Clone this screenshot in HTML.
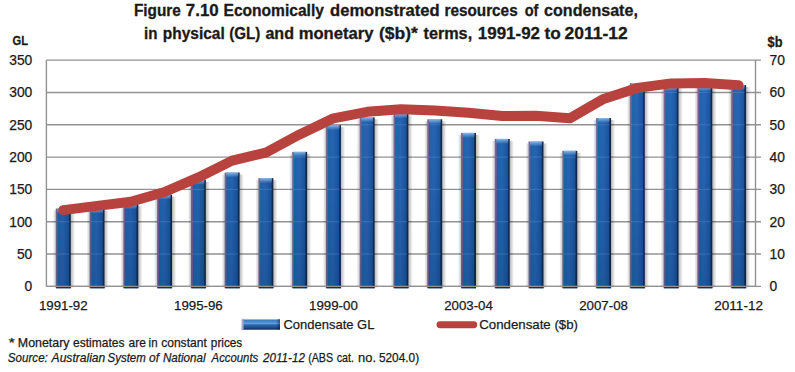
<!DOCTYPE html>
<html><head><meta charset="utf-8"><style>
html,body{margin:0;padding:0;background:#fff;}
body{width:795px;height:372px;overflow:hidden;position:relative;}
svg{position:absolute;left:0;top:0;}
text{font-family:"Liberation Sans",sans-serif;fill:#1a1a1a;stroke:#1a1a1a;stroke-width:0.25px;}
text[font-weight=bold]{stroke-width:0.3px;}
</style></head><body>
<svg width="795" height="372" viewBox="0 0 795 372">
<defs>
<linearGradient id="bar" x1="0" y1="0" x2="1" y2="0">
<stop offset="0" stop-color="#7f7099"/>
<stop offset="0.11" stop-color="#735f95"/>
<stop offset="0.15" stop-color="#1d68a6"/>
<stop offset="0.27" stop-color="#1f68b2"/>
<stop offset="0.47" stop-color="#2a66b6"/>
<stop offset="0.72" stop-color="#1f5ca8"/>
<stop offset="0.85" stop-color="#1a56a0"/>
<stop offset="0.9" stop-color="#14305a"/>
<stop offset="1" stop-color="#0e2240"/>
</linearGradient>
<linearGradient id="vdark" gradientUnits="userSpaceOnUse" x1="0" y1="60" x2="0" y2="287">
<stop offset="0" stop-color="#001a40" stop-opacity="0"/>
<stop offset="0.5" stop-color="#001a40" stop-opacity="0.06"/>
<stop offset="1" stop-color="#001a40" stop-opacity="0.2"/>
</linearGradient>
<linearGradient id="cap" x1="0" y1="0" x2="0" y2="1">
<stop offset="0" stop-color="#a8d0f4" stop-opacity="0.8"/>
<stop offset="0.5" stop-color="#8cbcec" stop-opacity="0.45"/>
<stop offset="1" stop-color="#8cbcec" stop-opacity="0"/>
</linearGradient>
<linearGradient id="shR" x1="0" y1="0" x2="1" y2="0">
<stop offset="0" stop-color="#000" stop-opacity="0.28"/>
<stop offset="1" stop-color="#000" stop-opacity="0"/>
</linearGradient>
<linearGradient id="shL" x1="0" y1="0" x2="1" y2="0">
<stop offset="0" stop-color="#000" stop-opacity="0"/>
<stop offset="1" stop-color="#000" stop-opacity="0.22"/>
</linearGradient>
<linearGradient id="leg" x1="0" y1="0" x2="0" y2="1">
<stop offset="0" stop-color="#a3bde4"/>
<stop offset="0.09" stop-color="#8fb0df"/>
<stop offset="0.14" stop-color="#3f7cc4"/>
<stop offset="0.3" stop-color="#4a8cd4"/>
<stop offset="0.42" stop-color="#5ea0e0"/>
<stop offset="0.52" stop-color="#3a74bc"/>
<stop offset="0.62" stop-color="#2b60a4"/>
<stop offset="0.8" stop-color="#1f4c88"/>
<stop offset="1" stop-color="#0c2a58"/>
</linearGradient>
<linearGradient id="legx" x1="0" y1="0" x2="1" y2="0">
<stop offset="0" stop-color="#000" stop-opacity="0"/>
<stop offset="0.9" stop-color="#000" stop-opacity="0"/>
<stop offset="1" stop-color="#001030" stop-opacity="0.45"/>
</linearGradient>
</defs>
<rect width="795" height="372" fill="#fff"/>

<line x1="46.4" y1="60.10" x2="761.0" y2="60.10" stroke="#929292" stroke-width="1.4"/>
<line x1="46.4" y1="92.43" x2="761.0" y2="92.43" stroke="#929292" stroke-width="1.4"/>
<line x1="46.4" y1="124.76" x2="761.0" y2="124.76" stroke="#929292" stroke-width="1.4"/>
<line x1="46.4" y1="157.09" x2="761.0" y2="157.09" stroke="#929292" stroke-width="1.4"/>
<line x1="46.4" y1="189.41" x2="761.0" y2="189.41" stroke="#929292" stroke-width="1.4"/>
<line x1="46.4" y1="221.74" x2="761.0" y2="221.74" stroke="#929292" stroke-width="1.4"/>
<line x1="46.4" y1="254.07" x2="761.0" y2="254.07" stroke="#929292" stroke-width="1.4"/>
<line x1="46.4" y1="286.40" x2="761.0" y2="286.40" stroke="#929292" stroke-width="1.4"/>
<line x1="46.40" y1="60.1" x2="46.40" y2="286.4" stroke="#929292" stroke-width="1.4"/>
<line x1="755.50" y1="60.1" x2="755.50" y2="286.4" stroke="#929292" stroke-width="1.4"/>
<g>
<rect x="70.78" y="210.55" width="4.2" height="76.85" fill="url(#shR)"/>
<rect x="52.78" y="210.55" width="3" height="76.85" fill="url(#shL)"/>
<rect x="55.78" y="208.55" width="15.00" height="79.65" fill="url(#bar)"/>
<rect x="55.78" y="208.55" width="15.00" height="79.65" fill="url(#vdark)"/>
<rect x="57.28" y="208.55" width="12.00" height="5" fill="url(#cap)"/>
<rect x="104.55" y="210.55" width="4.2" height="76.85" fill="url(#shR)"/>
<rect x="86.55" y="210.55" width="3" height="76.85" fill="url(#shL)"/>
<rect x="89.55" y="208.55" width="15.00" height="79.65" fill="url(#bar)"/>
<rect x="89.55" y="208.55" width="15.00" height="79.65" fill="url(#vdark)"/>
<rect x="91.05" y="208.55" width="12.00" height="5" fill="url(#cap)"/>
<rect x="138.32" y="206.03" width="4.2" height="81.37" fill="url(#shR)"/>
<rect x="120.32" y="206.03" width="3" height="81.37" fill="url(#shL)"/>
<rect x="123.32" y="204.03" width="15.00" height="84.17" fill="url(#bar)"/>
<rect x="123.32" y="204.03" width="15.00" height="84.17" fill="url(#vdark)"/>
<rect x="124.82" y="204.03" width="12.00" height="5" fill="url(#cap)"/>
<rect x="172.08" y="196.65" width="4.2" height="90.75" fill="url(#shR)"/>
<rect x="154.08" y="196.65" width="3" height="90.75" fill="url(#shL)"/>
<rect x="157.08" y="194.65" width="15.00" height="93.55" fill="url(#bar)"/>
<rect x="157.08" y="194.65" width="15.00" height="93.55" fill="url(#vdark)"/>
<rect x="158.58" y="194.65" width="12.00" height="5" fill="url(#cap)"/>
<rect x="205.85" y="181.78" width="4.2" height="105.62" fill="url(#shR)"/>
<rect x="187.85" y="181.78" width="3" height="105.62" fill="url(#shL)"/>
<rect x="190.85" y="179.78" width="15.00" height="108.42" fill="url(#bar)"/>
<rect x="190.85" y="179.78" width="15.00" height="108.42" fill="url(#vdark)"/>
<rect x="192.35" y="179.78" width="12.00" height="5" fill="url(#cap)"/>
<rect x="239.62" y="174.54" width="4.2" height="112.86" fill="url(#shR)"/>
<rect x="221.62" y="174.54" width="3" height="112.86" fill="url(#shL)"/>
<rect x="224.62" y="172.54" width="15.00" height="115.66" fill="url(#bar)"/>
<rect x="224.62" y="172.54" width="15.00" height="115.66" fill="url(#vdark)"/>
<rect x="226.12" y="172.54" width="12.00" height="5" fill="url(#cap)"/>
<rect x="273.38" y="180.16" width="4.2" height="107.24" fill="url(#shR)"/>
<rect x="255.38" y="180.16" width="3" height="107.24" fill="url(#shL)"/>
<rect x="258.38" y="178.16" width="15.00" height="110.04" fill="url(#bar)"/>
<rect x="258.38" y="178.16" width="15.00" height="110.04" fill="url(#vdark)"/>
<rect x="259.88" y="178.16" width="12.00" height="5" fill="url(#cap)"/>
<rect x="307.15" y="153.85" width="4.2" height="133.55" fill="url(#shR)"/>
<rect x="289.15" y="153.85" width="3" height="133.55" fill="url(#shL)"/>
<rect x="292.15" y="151.85" width="15.00" height="136.35" fill="url(#bar)"/>
<rect x="292.15" y="151.85" width="15.00" height="136.35" fill="url(#vdark)"/>
<rect x="293.65" y="151.85" width="12.00" height="5" fill="url(#cap)"/>
<rect x="340.92" y="127.15" width="4.2" height="160.25" fill="url(#shR)"/>
<rect x="322.92" y="127.15" width="3" height="160.25" fill="url(#shL)"/>
<rect x="325.92" y="125.15" width="15.00" height="163.05" fill="url(#bar)"/>
<rect x="325.92" y="125.15" width="15.00" height="163.05" fill="url(#vdark)"/>
<rect x="327.42" y="125.15" width="12.00" height="5" fill="url(#cap)"/>
<rect x="374.68" y="119.39" width="4.2" height="168.01" fill="url(#shR)"/>
<rect x="356.68" y="119.39" width="3" height="168.01" fill="url(#shL)"/>
<rect x="359.68" y="117.39" width="15.00" height="170.81" fill="url(#bar)"/>
<rect x="359.68" y="117.39" width="15.00" height="170.81" fill="url(#vdark)"/>
<rect x="361.18" y="117.39" width="12.00" height="5" fill="url(#cap)"/>
<rect x="408.45" y="115.51" width="4.2" height="171.89" fill="url(#shR)"/>
<rect x="390.45" y="115.51" width="3" height="171.89" fill="url(#shL)"/>
<rect x="393.45" y="113.51" width="15.00" height="174.69" fill="url(#bar)"/>
<rect x="393.45" y="113.51" width="15.00" height="174.69" fill="url(#vdark)"/>
<rect x="394.95" y="113.51" width="12.00" height="5" fill="url(#cap)"/>
<rect x="442.22" y="121.33" width="4.2" height="166.07" fill="url(#shR)"/>
<rect x="424.22" y="121.33" width="3" height="166.07" fill="url(#shL)"/>
<rect x="427.22" y="119.33" width="15.00" height="168.87" fill="url(#bar)"/>
<rect x="427.22" y="119.33" width="15.00" height="168.87" fill="url(#vdark)"/>
<rect x="428.72" y="119.33" width="12.00" height="5" fill="url(#cap)"/>
<rect x="475.98" y="134.90" width="4.2" height="152.50" fill="url(#shR)"/>
<rect x="457.98" y="134.90" width="3" height="152.50" fill="url(#shL)"/>
<rect x="460.98" y="132.90" width="15.00" height="155.30" fill="url(#bar)"/>
<rect x="460.98" y="132.90" width="15.00" height="155.30" fill="url(#vdark)"/>
<rect x="462.48" y="132.90" width="12.00" height="5" fill="url(#cap)"/>
<rect x="509.75" y="140.92" width="4.2" height="146.48" fill="url(#shR)"/>
<rect x="491.75" y="140.92" width="3" height="146.48" fill="url(#shL)"/>
<rect x="494.75" y="138.92" width="15.00" height="149.28" fill="url(#bar)"/>
<rect x="494.75" y="138.92" width="15.00" height="149.28" fill="url(#vdark)"/>
<rect x="496.25" y="138.92" width="12.00" height="5" fill="url(#cap)"/>
<rect x="543.52" y="143.50" width="4.2" height="143.90" fill="url(#shR)"/>
<rect x="525.52" y="143.50" width="3" height="143.90" fill="url(#shL)"/>
<rect x="528.52" y="141.50" width="15.00" height="146.70" fill="url(#bar)"/>
<rect x="528.52" y="141.50" width="15.00" height="146.70" fill="url(#vdark)"/>
<rect x="530.02" y="141.50" width="12.00" height="5" fill="url(#cap)"/>
<rect x="577.28" y="152.81" width="4.2" height="134.59" fill="url(#shR)"/>
<rect x="559.28" y="152.81" width="3" height="134.59" fill="url(#shL)"/>
<rect x="562.28" y="150.81" width="15.00" height="137.39" fill="url(#bar)"/>
<rect x="562.28" y="150.81" width="15.00" height="137.39" fill="url(#vdark)"/>
<rect x="563.78" y="150.81" width="12.00" height="5" fill="url(#cap)"/>
<rect x="611.05" y="120.03" width="4.2" height="167.37" fill="url(#shR)"/>
<rect x="593.05" y="120.03" width="3" height="167.37" fill="url(#shL)"/>
<rect x="596.05" y="118.03" width="15.00" height="170.17" fill="url(#bar)"/>
<rect x="596.05" y="118.03" width="15.00" height="170.17" fill="url(#vdark)"/>
<rect x="597.55" y="118.03" width="12.00" height="5" fill="url(#cap)"/>
<rect x="644.82" y="85.12" width="4.2" height="202.28" fill="url(#shR)"/>
<rect x="626.82" y="85.12" width="3" height="202.28" fill="url(#shL)"/>
<rect x="629.82" y="83.12" width="15.00" height="205.08" fill="url(#bar)"/>
<rect x="629.82" y="83.12" width="15.00" height="205.08" fill="url(#vdark)"/>
<rect x="631.32" y="83.12" width="12.00" height="5" fill="url(#cap)"/>
<rect x="678.58" y="88.35" width="4.2" height="199.05" fill="url(#shR)"/>
<rect x="660.58" y="88.35" width="3" height="199.05" fill="url(#shL)"/>
<rect x="663.58" y="86.35" width="15.00" height="201.85" fill="url(#bar)"/>
<rect x="663.58" y="86.35" width="15.00" height="201.85" fill="url(#vdark)"/>
<rect x="665.08" y="86.35" width="12.00" height="5" fill="url(#cap)"/>
<rect x="712.35" y="88.35" width="4.2" height="199.05" fill="url(#shR)"/>
<rect x="694.35" y="88.35" width="3" height="199.05" fill="url(#shL)"/>
<rect x="697.35" y="86.35" width="15.00" height="201.85" fill="url(#bar)"/>
<rect x="697.35" y="86.35" width="15.00" height="201.85" fill="url(#vdark)"/>
<rect x="698.85" y="86.35" width="12.00" height="5" fill="url(#cap)"/>
<rect x="746.12" y="87.06" width="4.2" height="200.34" fill="url(#shR)"/>
<rect x="728.12" y="87.06" width="3" height="200.34" fill="url(#shL)"/>
<rect x="731.12" y="85.06" width="15.00" height="203.14" fill="url(#bar)"/>
<rect x="731.12" y="85.06" width="15.00" height="203.14" fill="url(#vdark)"/>
<rect x="732.62" y="85.06" width="12.00" height="5" fill="url(#cap)"/>
</g>
<line x1="631.32" y1="92.43" x2="643.32" y2="92.43" stroke="#6f9ad0" stroke-opacity="0.3" stroke-width="1.2"/>
<line x1="665.08" y1="92.43" x2="677.08" y2="92.43" stroke="#6f9ad0" stroke-opacity="0.3" stroke-width="1.2"/>
<line x1="698.85" y1="92.43" x2="710.85" y2="92.43" stroke="#6f9ad0" stroke-opacity="0.3" stroke-width="1.2"/>
<line x1="732.62" y1="92.43" x2="744.62" y2="92.43" stroke="#6f9ad0" stroke-opacity="0.3" stroke-width="1.2"/>
<line x1="361.18" y1="124.76" x2="373.18" y2="124.76" stroke="#6f9ad0" stroke-opacity="0.3" stroke-width="1.2"/>
<line x1="394.95" y1="124.76" x2="406.95" y2="124.76" stroke="#6f9ad0" stroke-opacity="0.3" stroke-width="1.2"/>
<line x1="428.72" y1="124.76" x2="440.72" y2="124.76" stroke="#6f9ad0" stroke-opacity="0.3" stroke-width="1.2"/>
<line x1="597.55" y1="124.76" x2="609.55" y2="124.76" stroke="#6f9ad0" stroke-opacity="0.3" stroke-width="1.2"/>
<line x1="631.32" y1="124.76" x2="643.32" y2="124.76" stroke="#6f9ad0" stroke-opacity="0.3" stroke-width="1.2"/>
<line x1="665.08" y1="124.76" x2="677.08" y2="124.76" stroke="#6f9ad0" stroke-opacity="0.3" stroke-width="1.2"/>
<line x1="698.85" y1="124.76" x2="710.85" y2="124.76" stroke="#6f9ad0" stroke-opacity="0.3" stroke-width="1.2"/>
<line x1="732.62" y1="124.76" x2="744.62" y2="124.76" stroke="#6f9ad0" stroke-opacity="0.3" stroke-width="1.2"/>
<line x1="293.65" y1="157.09" x2="305.65" y2="157.09" stroke="#6f9ad0" stroke-opacity="0.3" stroke-width="1.2"/>
<line x1="327.42" y1="157.09" x2="339.42" y2="157.09" stroke="#6f9ad0" stroke-opacity="0.3" stroke-width="1.2"/>
<line x1="361.18" y1="157.09" x2="373.18" y2="157.09" stroke="#6f9ad0" stroke-opacity="0.3" stroke-width="1.2"/>
<line x1="394.95" y1="157.09" x2="406.95" y2="157.09" stroke="#6f9ad0" stroke-opacity="0.3" stroke-width="1.2"/>
<line x1="428.72" y1="157.09" x2="440.72" y2="157.09" stroke="#6f9ad0" stroke-opacity="0.3" stroke-width="1.2"/>
<line x1="462.48" y1="157.09" x2="474.48" y2="157.09" stroke="#6f9ad0" stroke-opacity="0.3" stroke-width="1.2"/>
<line x1="496.25" y1="157.09" x2="508.25" y2="157.09" stroke="#6f9ad0" stroke-opacity="0.3" stroke-width="1.2"/>
<line x1="530.02" y1="157.09" x2="542.02" y2="157.09" stroke="#6f9ad0" stroke-opacity="0.3" stroke-width="1.2"/>
<line x1="563.78" y1="157.09" x2="575.78" y2="157.09" stroke="#6f9ad0" stroke-opacity="0.3" stroke-width="1.2"/>
<line x1="597.55" y1="157.09" x2="609.55" y2="157.09" stroke="#6f9ad0" stroke-opacity="0.3" stroke-width="1.2"/>
<line x1="631.32" y1="157.09" x2="643.32" y2="157.09" stroke="#6f9ad0" stroke-opacity="0.3" stroke-width="1.2"/>
<line x1="665.08" y1="157.09" x2="677.08" y2="157.09" stroke="#6f9ad0" stroke-opacity="0.3" stroke-width="1.2"/>
<line x1="698.85" y1="157.09" x2="710.85" y2="157.09" stroke="#6f9ad0" stroke-opacity="0.3" stroke-width="1.2"/>
<line x1="732.62" y1="157.09" x2="744.62" y2="157.09" stroke="#6f9ad0" stroke-opacity="0.3" stroke-width="1.2"/>
<line x1="192.35" y1="189.41" x2="204.35" y2="189.41" stroke="#6f9ad0" stroke-opacity="0.3" stroke-width="1.2"/>
<line x1="226.12" y1="189.41" x2="238.12" y2="189.41" stroke="#6f9ad0" stroke-opacity="0.3" stroke-width="1.2"/>
<line x1="259.88" y1="189.41" x2="271.88" y2="189.41" stroke="#6f9ad0" stroke-opacity="0.3" stroke-width="1.2"/>
<line x1="293.65" y1="189.41" x2="305.65" y2="189.41" stroke="#6f9ad0" stroke-opacity="0.3" stroke-width="1.2"/>
<line x1="327.42" y1="189.41" x2="339.42" y2="189.41" stroke="#6f9ad0" stroke-opacity="0.3" stroke-width="1.2"/>
<line x1="361.18" y1="189.41" x2="373.18" y2="189.41" stroke="#6f9ad0" stroke-opacity="0.3" stroke-width="1.2"/>
<line x1="394.95" y1="189.41" x2="406.95" y2="189.41" stroke="#6f9ad0" stroke-opacity="0.3" stroke-width="1.2"/>
<line x1="428.72" y1="189.41" x2="440.72" y2="189.41" stroke="#6f9ad0" stroke-opacity="0.3" stroke-width="1.2"/>
<line x1="462.48" y1="189.41" x2="474.48" y2="189.41" stroke="#6f9ad0" stroke-opacity="0.3" stroke-width="1.2"/>
<line x1="496.25" y1="189.41" x2="508.25" y2="189.41" stroke="#6f9ad0" stroke-opacity="0.3" stroke-width="1.2"/>
<line x1="530.02" y1="189.41" x2="542.02" y2="189.41" stroke="#6f9ad0" stroke-opacity="0.3" stroke-width="1.2"/>
<line x1="563.78" y1="189.41" x2="575.78" y2="189.41" stroke="#6f9ad0" stroke-opacity="0.3" stroke-width="1.2"/>
<line x1="597.55" y1="189.41" x2="609.55" y2="189.41" stroke="#6f9ad0" stroke-opacity="0.3" stroke-width="1.2"/>
<line x1="631.32" y1="189.41" x2="643.32" y2="189.41" stroke="#6f9ad0" stroke-opacity="0.3" stroke-width="1.2"/>
<line x1="665.08" y1="189.41" x2="677.08" y2="189.41" stroke="#6f9ad0" stroke-opacity="0.3" stroke-width="1.2"/>
<line x1="698.85" y1="189.41" x2="710.85" y2="189.41" stroke="#6f9ad0" stroke-opacity="0.3" stroke-width="1.2"/>
<line x1="732.62" y1="189.41" x2="744.62" y2="189.41" stroke="#6f9ad0" stroke-opacity="0.3" stroke-width="1.2"/>
<line x1="57.28" y1="221.74" x2="69.28" y2="221.74" stroke="#6f9ad0" stroke-opacity="0.3" stroke-width="1.2"/>
<line x1="91.05" y1="221.74" x2="103.05" y2="221.74" stroke="#6f9ad0" stroke-opacity="0.3" stroke-width="1.2"/>
<line x1="124.82" y1="221.74" x2="136.82" y2="221.74" stroke="#6f9ad0" stroke-opacity="0.3" stroke-width="1.2"/>
<line x1="158.58" y1="221.74" x2="170.58" y2="221.74" stroke="#6f9ad0" stroke-opacity="0.3" stroke-width="1.2"/>
<line x1="192.35" y1="221.74" x2="204.35" y2="221.74" stroke="#6f9ad0" stroke-opacity="0.3" stroke-width="1.2"/>
<line x1="226.12" y1="221.74" x2="238.12" y2="221.74" stroke="#6f9ad0" stroke-opacity="0.3" stroke-width="1.2"/>
<line x1="259.88" y1="221.74" x2="271.88" y2="221.74" stroke="#6f9ad0" stroke-opacity="0.3" stroke-width="1.2"/>
<line x1="293.65" y1="221.74" x2="305.65" y2="221.74" stroke="#6f9ad0" stroke-opacity="0.3" stroke-width="1.2"/>
<line x1="327.42" y1="221.74" x2="339.42" y2="221.74" stroke="#6f9ad0" stroke-opacity="0.3" stroke-width="1.2"/>
<line x1="361.18" y1="221.74" x2="373.18" y2="221.74" stroke="#6f9ad0" stroke-opacity="0.3" stroke-width="1.2"/>
<line x1="394.95" y1="221.74" x2="406.95" y2="221.74" stroke="#6f9ad0" stroke-opacity="0.3" stroke-width="1.2"/>
<line x1="428.72" y1="221.74" x2="440.72" y2="221.74" stroke="#6f9ad0" stroke-opacity="0.3" stroke-width="1.2"/>
<line x1="462.48" y1="221.74" x2="474.48" y2="221.74" stroke="#6f9ad0" stroke-opacity="0.3" stroke-width="1.2"/>
<line x1="496.25" y1="221.74" x2="508.25" y2="221.74" stroke="#6f9ad0" stroke-opacity="0.3" stroke-width="1.2"/>
<line x1="530.02" y1="221.74" x2="542.02" y2="221.74" stroke="#6f9ad0" stroke-opacity="0.3" stroke-width="1.2"/>
<line x1="563.78" y1="221.74" x2="575.78" y2="221.74" stroke="#6f9ad0" stroke-opacity="0.3" stroke-width="1.2"/>
<line x1="597.55" y1="221.74" x2="609.55" y2="221.74" stroke="#6f9ad0" stroke-opacity="0.3" stroke-width="1.2"/>
<line x1="631.32" y1="221.74" x2="643.32" y2="221.74" stroke="#6f9ad0" stroke-opacity="0.3" stroke-width="1.2"/>
<line x1="665.08" y1="221.74" x2="677.08" y2="221.74" stroke="#6f9ad0" stroke-opacity="0.3" stroke-width="1.2"/>
<line x1="698.85" y1="221.74" x2="710.85" y2="221.74" stroke="#6f9ad0" stroke-opacity="0.3" stroke-width="1.2"/>
<line x1="732.62" y1="221.74" x2="744.62" y2="221.74" stroke="#6f9ad0" stroke-opacity="0.3" stroke-width="1.2"/>
<line x1="57.28" y1="254.07" x2="69.28" y2="254.07" stroke="#6f9ad0" stroke-opacity="0.3" stroke-width="1.2"/>
<line x1="91.05" y1="254.07" x2="103.05" y2="254.07" stroke="#6f9ad0" stroke-opacity="0.3" stroke-width="1.2"/>
<line x1="124.82" y1="254.07" x2="136.82" y2="254.07" stroke="#6f9ad0" stroke-opacity="0.3" stroke-width="1.2"/>
<line x1="158.58" y1="254.07" x2="170.58" y2="254.07" stroke="#6f9ad0" stroke-opacity="0.3" stroke-width="1.2"/>
<line x1="192.35" y1="254.07" x2="204.35" y2="254.07" stroke="#6f9ad0" stroke-opacity="0.3" stroke-width="1.2"/>
<line x1="226.12" y1="254.07" x2="238.12" y2="254.07" stroke="#6f9ad0" stroke-opacity="0.3" stroke-width="1.2"/>
<line x1="259.88" y1="254.07" x2="271.88" y2="254.07" stroke="#6f9ad0" stroke-opacity="0.3" stroke-width="1.2"/>
<line x1="293.65" y1="254.07" x2="305.65" y2="254.07" stroke="#6f9ad0" stroke-opacity="0.3" stroke-width="1.2"/>
<line x1="327.42" y1="254.07" x2="339.42" y2="254.07" stroke="#6f9ad0" stroke-opacity="0.3" stroke-width="1.2"/>
<line x1="361.18" y1="254.07" x2="373.18" y2="254.07" stroke="#6f9ad0" stroke-opacity="0.3" stroke-width="1.2"/>
<line x1="394.95" y1="254.07" x2="406.95" y2="254.07" stroke="#6f9ad0" stroke-opacity="0.3" stroke-width="1.2"/>
<line x1="428.72" y1="254.07" x2="440.72" y2="254.07" stroke="#6f9ad0" stroke-opacity="0.3" stroke-width="1.2"/>
<line x1="462.48" y1="254.07" x2="474.48" y2="254.07" stroke="#6f9ad0" stroke-opacity="0.3" stroke-width="1.2"/>
<line x1="496.25" y1="254.07" x2="508.25" y2="254.07" stroke="#6f9ad0" stroke-opacity="0.3" stroke-width="1.2"/>
<line x1="530.02" y1="254.07" x2="542.02" y2="254.07" stroke="#6f9ad0" stroke-opacity="0.3" stroke-width="1.2"/>
<line x1="563.78" y1="254.07" x2="575.78" y2="254.07" stroke="#6f9ad0" stroke-opacity="0.3" stroke-width="1.2"/>
<line x1="597.55" y1="254.07" x2="609.55" y2="254.07" stroke="#6f9ad0" stroke-opacity="0.3" stroke-width="1.2"/>
<line x1="631.32" y1="254.07" x2="643.32" y2="254.07" stroke="#6f9ad0" stroke-opacity="0.3" stroke-width="1.2"/>
<line x1="665.08" y1="254.07" x2="677.08" y2="254.07" stroke="#6f9ad0" stroke-opacity="0.3" stroke-width="1.2"/>
<line x1="698.85" y1="254.07" x2="710.85" y2="254.07" stroke="#6f9ad0" stroke-opacity="0.3" stroke-width="1.2"/>
<line x1="732.62" y1="254.07" x2="744.62" y2="254.07" stroke="#6f9ad0" stroke-opacity="0.3" stroke-width="1.2"/>
<line x1="46.40" y1="286.40" x2="755.50" y2="286.40" stroke="#929292" stroke-width="1.4"/>
<rect x="56.28" y="287.10" width="14.50" height="1.2" fill="#0c2a58" fill-opacity="0.9"/>
<rect x="90.05" y="287.10" width="14.50" height="1.2" fill="#0c2a58" fill-opacity="0.9"/>
<rect x="123.82" y="287.10" width="14.50" height="1.2" fill="#0c2a58" fill-opacity="0.9"/>
<rect x="157.58" y="287.10" width="14.50" height="1.2" fill="#0c2a58" fill-opacity="0.9"/>
<rect x="191.35" y="287.10" width="14.50" height="1.2" fill="#0c2a58" fill-opacity="0.9"/>
<rect x="225.12" y="287.10" width="14.50" height="1.2" fill="#0c2a58" fill-opacity="0.9"/>
<rect x="258.88" y="287.10" width="14.50" height="1.2" fill="#0c2a58" fill-opacity="0.9"/>
<rect x="292.65" y="287.10" width="14.50" height="1.2" fill="#0c2a58" fill-opacity="0.9"/>
<rect x="326.42" y="287.10" width="14.50" height="1.2" fill="#0c2a58" fill-opacity="0.9"/>
<rect x="360.18" y="287.10" width="14.50" height="1.2" fill="#0c2a58" fill-opacity="0.9"/>
<rect x="393.95" y="287.10" width="14.50" height="1.2" fill="#0c2a58" fill-opacity="0.9"/>
<rect x="427.72" y="287.10" width="14.50" height="1.2" fill="#0c2a58" fill-opacity="0.9"/>
<rect x="461.48" y="287.10" width="14.50" height="1.2" fill="#0c2a58" fill-opacity="0.9"/>
<rect x="495.25" y="287.10" width="14.50" height="1.2" fill="#0c2a58" fill-opacity="0.9"/>
<rect x="529.02" y="287.10" width="14.50" height="1.2" fill="#0c2a58" fill-opacity="0.9"/>
<rect x="562.78" y="287.10" width="14.50" height="1.2" fill="#0c2a58" fill-opacity="0.9"/>
<rect x="596.55" y="287.10" width="14.50" height="1.2" fill="#0c2a58" fill-opacity="0.9"/>
<rect x="630.32" y="287.10" width="14.50" height="1.2" fill="#0c2a58" fill-opacity="0.9"/>
<rect x="664.08" y="287.10" width="14.50" height="1.2" fill="#0c2a58" fill-opacity="0.9"/>
<rect x="697.85" y="287.10" width="14.50" height="1.2" fill="#0c2a58" fill-opacity="0.9"/>
<rect x="731.62" y="287.10" width="14.50" height="1.2" fill="#0c2a58" fill-opacity="0.9"/>
<polyline points="63.28,210.10 97.05,205.90 130.82,201.70 164.58,192.00 198.35,177.45 232.12,160.64 265.88,152.56 299.65,134.46 333.42,118.29 367.18,111.83 400.95,109.24 434.72,110.53 468.48,112.80 502.25,116.03 536.02,115.71 569.78,118.29 603.55,98.89 637.32,87.90 671.08,83.38 704.85,83.05 738.62,85.32" fill="none" stroke="#b8433e" stroke-width="10" stroke-linejoin="round" stroke-linecap="round"/>
<text x="133.94" y="15.70" font-size="16.00" font-weight="bold" font-style="normal" textLength="46.92" lengthAdjust="spacingAndGlyphs">Figure</text>
<text x="185.86" y="15.70" font-size="16.00" font-weight="bold" font-style="normal" textLength="32.81" lengthAdjust="spacingAndGlyphs">7.10</text>
<text x="223.53" y="15.70" font-size="16.00" font-weight="bold" font-style="normal" textLength="100.42" lengthAdjust="spacingAndGlyphs">Economically</text>
<text x="330.08" y="15.70" font-size="16.00" font-weight="bold" font-style="normal" textLength="109.46" lengthAdjust="spacingAndGlyphs">demonstrated</text>
<text x="444.45" y="15.70" font-size="16.00" font-weight="bold" font-style="normal" textLength="73.22" lengthAdjust="spacingAndGlyphs">resources</text>
<text x="524.65" y="15.70" font-size="16.00" font-weight="bold" font-style="normal" textLength="13.75" lengthAdjust="spacingAndGlyphs">of</text>
<text x="544.10" y="15.70" font-size="16.00" font-weight="bold" font-style="normal" textLength="93.77" lengthAdjust="spacingAndGlyphs">condensate,</text>
<text x="143.96" y="38.50" font-size="16.00" font-weight="bold" font-style="normal" textLength="13.40" lengthAdjust="spacingAndGlyphs">in</text>
<text x="162.84" y="38.50" font-size="16.00" font-weight="bold" font-style="normal" textLength="61.86" lengthAdjust="spacingAndGlyphs">physical</text>
<text x="229.24" y="38.50" font-size="16.00" font-weight="bold" font-style="normal" textLength="31.09" lengthAdjust="spacingAndGlyphs">(GL)</text>
<text x="265.40" y="38.50" font-size="16.00" font-weight="bold" font-style="normal" textLength="28.55" lengthAdjust="spacingAndGlyphs">and</text>
<text x="298.66" y="38.50" font-size="16.00" font-weight="bold" font-style="normal" textLength="74.77" lengthAdjust="spacingAndGlyphs">monetary</text>
<text x="378.93" y="38.50" font-size="16.00" font-weight="bold" font-style="normal" textLength="38.83" lengthAdjust="spacingAndGlyphs">($b)*</text>
<text x="423.50" y="38.50" font-size="16.00" font-weight="bold" font-style="normal" textLength="48.64" lengthAdjust="spacingAndGlyphs">terms,</text>
<text x="477.84" y="38.50" font-size="16.00" font-weight="bold" font-style="normal" textLength="62.22" lengthAdjust="spacingAndGlyphs">1991-92</text>
<text x="544.58" y="38.50" font-size="16.00" font-weight="bold" font-style="normal" textLength="16.26" lengthAdjust="spacingAndGlyphs">to</text>
<text x="564.55" y="38.50" font-size="16.00" font-weight="bold" font-style="normal" textLength="63.05" lengthAdjust="spacingAndGlyphs">2011-12</text>
<text x="12.6" y="45.0" font-weight="bold" font-size="13.7" textLength="15.5" lengthAdjust="spacingAndGlyphs">GL</text>
<text x="767.6" y="46.8" font-weight="bold" font-size="15.3" textLength="14.9" lengthAdjust="spacingAndGlyphs">$b</text>
<text x="32.3" y="65.00" text-anchor="end" font-size="13.8">350</text>
<text x="769.6" y="65.00" font-size="13.8">70</text>
<text x="32.3" y="97.33" text-anchor="end" font-size="13.8">300</text>
<text x="769.6" y="97.33" font-size="13.8">60</text>
<text x="32.3" y="129.66" text-anchor="end" font-size="13.8">250</text>
<text x="769.6" y="129.66" font-size="13.8">50</text>
<text x="32.3" y="161.99" text-anchor="end" font-size="13.8">200</text>
<text x="769.6" y="161.99" font-size="13.8">40</text>
<text x="32.3" y="194.31" text-anchor="end" font-size="13.8">150</text>
<text x="769.6" y="194.31" font-size="13.8">30</text>
<text x="32.3" y="226.64" text-anchor="end" font-size="13.8">100</text>
<text x="769.6" y="226.64" font-size="13.8">20</text>
<text x="32.3" y="258.97" text-anchor="end" font-size="13.8">50</text>
<text x="769.6" y="258.97" font-size="13.8">10</text>
<text x="32.3" y="291.30" text-anchor="end" font-size="13.8">0</text>
<text x="769.6" y="291.30" font-size="13.8">0</text>
<text x="63.28" y="309.7" text-anchor="middle" font-size="13.6" textLength="48.7" lengthAdjust="spacingAndGlyphs">1991-92</text>
<text x="198.35" y="309.7" text-anchor="middle" font-size="13.6" textLength="48.7" lengthAdjust="spacingAndGlyphs">1995-96</text>
<text x="333.42" y="309.7" text-anchor="middle" font-size="13.6" textLength="48.7" lengthAdjust="spacingAndGlyphs">1999-00</text>
<text x="468.48" y="309.7" text-anchor="middle" font-size="13.6" textLength="48.7" lengthAdjust="spacingAndGlyphs">2003-04</text>
<text x="603.55" y="309.7" text-anchor="middle" font-size="13.6" textLength="48.7" lengthAdjust="spacingAndGlyphs">2007-08</text>
<text x="738.62" y="309.7" text-anchor="middle" font-size="13.6" textLength="48.7" lengthAdjust="spacingAndGlyphs">2011-12</text>
<rect x="241.8" y="318.9" width="38.2" height="10.8" fill="url(#leg)"/>
<rect x="241.8" y="318.9" width="38.2" height="10.8" fill="url(#legx)"/>
<rect x="241.8" y="318.9" width="1.8" height="10.8" fill="#a9a6c6"/>
<text x="283.5" y="329.0" font-size="13.4" textLength="90.9" lengthAdjust="spacingAndGlyphs">Condensate GL</text>
<line x1="440" y1="324.7" x2="473.8" y2="324.7" stroke="#b8433e" stroke-width="6.9" stroke-linecap="round"/>
<text x="479.2" y="329.0" font-size="13.4" textLength="98.8" lengthAdjust="spacingAndGlyphs">Condensate ($b)</text>
<text x="8.71" y="346.60" font-size="12.20" font-weight="normal" font-style="normal" textLength="6.00" lengthAdjust="spacingAndGlyphs">*</text>
<text x="17.79" y="346.60" font-size="12.20" font-weight="normal" font-style="normal" textLength="51.78" lengthAdjust="spacingAndGlyphs">Monetary</text>
<text x="73.07" y="346.60" font-size="12.20" font-weight="normal" font-style="normal" textLength="51.35" lengthAdjust="spacingAndGlyphs">estimates</text>
<text x="128.47" y="346.60" font-size="12.20" font-weight="normal" font-style="normal" textLength="17.37" lengthAdjust="spacingAndGlyphs">are</text>
<text x="148.61" y="346.60" font-size="12.20" font-weight="normal" font-style="normal" textLength="8.95" lengthAdjust="spacingAndGlyphs">in</text>
<text x="161.17" y="346.60" font-size="12.20" font-weight="normal" font-style="normal" textLength="45.59" lengthAdjust="spacingAndGlyphs">constant</text>
<text x="210.87" y="346.60" font-size="12.20" font-weight="normal" font-style="normal" textLength="31.36" lengthAdjust="spacingAndGlyphs">prices</text>
<text x="7.84" y="361.80" font-size="12.20" font-weight="normal" font-style="italic" textLength="40.03" lengthAdjust="spacingAndGlyphs">Source:</text>
<text x="51.60" y="361.80" font-size="12.20" font-weight="normal" font-style="italic" textLength="53.66" lengthAdjust="spacingAndGlyphs">Australian</text>
<text x="107.54" y="361.80" font-size="12.20" font-weight="normal" font-style="italic" textLength="38.29" lengthAdjust="spacingAndGlyphs">System</text>
<text x="149.03" y="361.80" font-size="12.20" font-weight="normal" font-style="italic" textLength="9.96" lengthAdjust="spacingAndGlyphs">of</text>
<text x="162.94" y="361.80" font-size="12.20" font-weight="normal" font-style="italic" textLength="42.67" lengthAdjust="spacingAndGlyphs">National</text>
<text x="211.57" y="361.80" font-size="12.20" font-weight="normal" font-style="italic" textLength="46.65" lengthAdjust="spacingAndGlyphs">Accounts</text>
<text x="263.07" y="361.80" font-size="12.20" font-weight="normal" font-style="italic" textLength="41.80" lengthAdjust="spacingAndGlyphs">2011-12</text>
<text x="308.13" y="361.80" font-size="12.20" font-weight="normal" font-style="normal" textLength="24.97" lengthAdjust="spacingAndGlyphs">(ABS</text>
<text x="336.73" y="361.80" font-size="12.20" font-weight="normal" font-style="normal" textLength="17.27" lengthAdjust="spacingAndGlyphs">cat.</text>
<text x="358.11" y="361.80" font-size="12.20" font-weight="normal" font-style="normal" textLength="17.95" lengthAdjust="spacingAndGlyphs">no.</text>
<text x="378.88" y="361.80" font-size="12.20" font-weight="normal" font-style="normal" textLength="40.23" lengthAdjust="spacingAndGlyphs">5204.0)</text>
</svg>
</body></html>
